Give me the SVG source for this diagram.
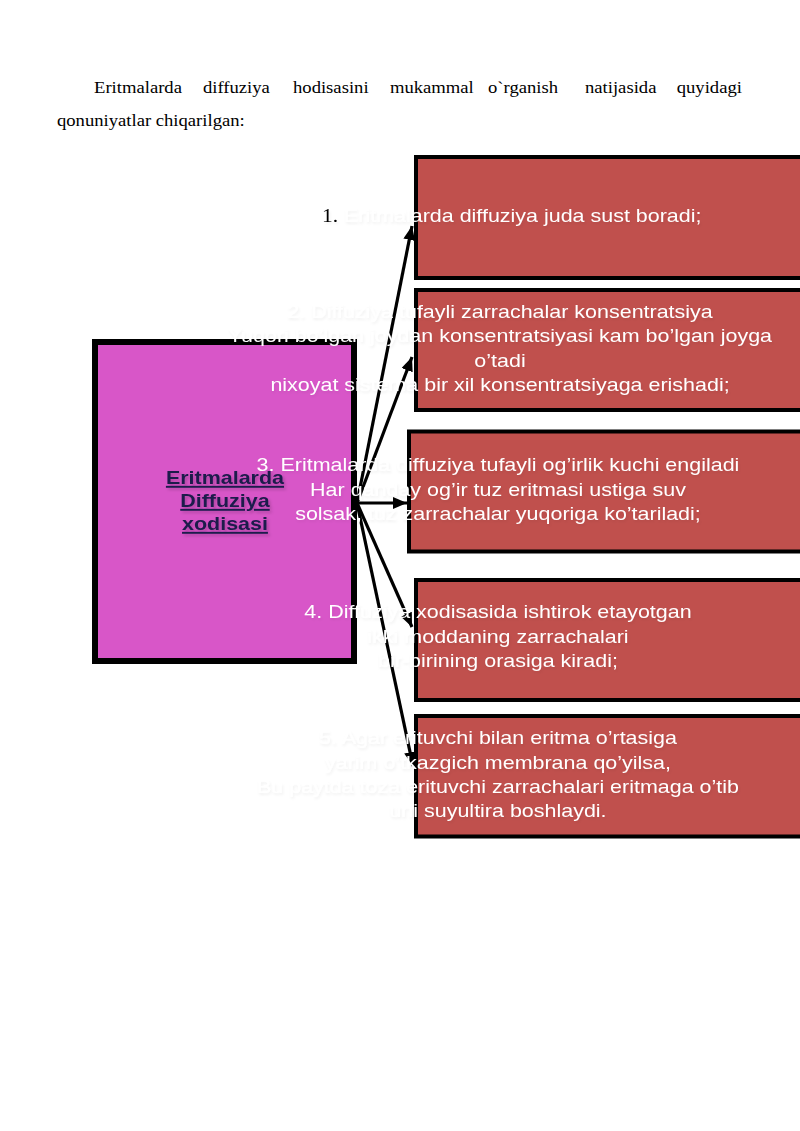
<svg xmlns="http://www.w3.org/2000/svg" width="800" height="1131" viewBox="0 0 800 1131">
<defs>
<style>
.par{font-family:"Liberation Serif","Times New Roman",serif;font-size:16.5px;fill:#000}
.box{fill:#c0504d;stroke:#000;stroke-width:4}
.hub{fill:#d856c8;stroke:#000;stroke-width:6}
.t{font-family:"Liberation Sans",Arial,sans-serif;font-size:19px;fill:#ffffff}
.c{text-anchor:middle}
.num{font-family:"Liberation Serif","Times New Roman",serif;font-size:19px;fill:#000}
.hubt{font-family:"Liberation Sans",Arial,sans-serif;font-size:19px;font-weight:bold;fill:#1d1a4c;text-decoration:underline;text-anchor:middle}
.con{stroke:#000;stroke-width:3.2;fill:none;marker-end:url(#ah)}
</style>
<marker id="ah" markerUnits="userSpaceOnUse" markerWidth="14" markerHeight="12" refX="14" refY="6" orient="auto">
<path d="M0,0 L14,6 L0,12 Z" fill="#000"/>
</marker>
<filter id="gh" x="-5%" y="-30%" width="110%" height="160%">
<feGaussianBlur in="SourceAlpha" stdDeviation="1.3"/>
<feOffset dx="1" dy="1.5" result="b"/>
<feFlood flood-color="#000" flood-opacity="0.06"/>
<feComposite in2="b" operator="in"/>
<feMerge><feMergeNode/><feMergeNode in="SourceGraphic"/></feMerge>
</filter>
<filter id="hs" x="-10%" y="-30%" width="120%" height="160%">
<feGaussianBlur in="SourceAlpha" stdDeviation="1.5"/>
<feOffset dx="1.5" dy="2" result="b"/>
<feFlood flood-color="#000" flood-opacity="0.2"/>
<feComposite in2="b" operator="in"/>
<feMerge><feMergeNode/><feMergeNode in="SourceGraphic"/></feMerge>
</filter>
</defs>
<rect width="800" height="1131" fill="#fff"/>

<g id="intro">
<text class="par" transform="scale(1.13,1)" y="93"><tspan x="83.2">Eritmalarda</tspan><tspan x="179.6">diffuziya</tspan><tspan x="259.3">hodisasini</tspan><tspan x="345.1">mukammal</tspan><tspan x="431.9">o`rganish</tspan><tspan x="517.7">natijasida</tspan><tspan x="598.9">quyidagi</tspan></text>
<text class="par" transform="scale(1.13,1)" x="50.4" y="126">qonuniyatlar chiqarilgan:</text>
</g>

<g id="hub">
<rect class="hub" x="95" y="342" width="259" height="319"/>
<g transform="scale(1.13,1)" filter="url(#hs)">
<text class="hubt" x="199.1" y="484">Eritmalarda</text>
<text class="hubt" x="199.1" y="507">Diffuziya</text>
<text class="hubt" x="199.1" y="530">xodisasi</text>
</g>
</g>

<g id="connectors">
<line class="con" x1="357" y1="503" x2="412" y2="226"/>
<line class="con" x1="357" y1="503" x2="412" y2="357"/>
<line class="con" x1="357" y1="503" x2="407" y2="503"/>
<line class="con" x1="357" y1="503" x2="412" y2="627"/>
<line class="con" x1="357" y1="503" x2="413" y2="766"/>
</g>

<g id="box1">
<rect class="box" x="416" y="157" width="404" height="121"/>
<g transform="scale(1.13,1)" filter="url(#gh)">
<text class="num" x="285" y="222">1.</text>
<text class="t" x="304.4" y="222">Eritmalarda diffuziya juda sust boradi;</text>
</g>
</g>

<g id="box2">
<rect class="box" x="416" y="290" width="404" height="120"/>
<g transform="scale(1.13,1)" filter="url(#gh)">
<text class="t c" x="442.5" y="318">2. Diffuziya tufayli zarrachalar konsentratsiya</text>
<text class="t c" x="442.5" y="342">Yuqori bo’lgan joydan konsentratsiyasi kam bo’lgan joyga</text>
<text class="t c" x="442.5" y="367">o’tadi</text>
<text class="t c" x="442.5" y="391">nixoyat sistema bir xil konsentratsiyaga erishadi;</text>
</g>
</g>

<g id="box3">
<rect class="box" x="409" y="431.5" width="411" height="120"/>
<g transform="scale(1.13,1)" filter="url(#gh)">
<text class="t c" x="440.7" y="471">3. Eritmalarda diffuziya tufayli og’irlik kuchi engiladi</text>
<text class="t c" x="440.7" y="496">Har qanday og’ir tuz eritmasi ustiga suv</text>
<text class="t c" x="440.7" y="520">solsak, tuz zarrachalar yuqoriga ko’tariladi;</text>
</g>
</g>

<g id="box4">
<rect class="box" x="416" y="580" width="404" height="120"/>
<g transform="scale(1.13,1)" filter="url(#gh)">
<text class="t c" x="440.7" y="618">4. Diffuziya xodisasida ishtirok etayotgan</text>
<text class="t c" x="440.7" y="643">ikki moddaning zarrachalari</text>
<text class="t c" x="440.7" y="667">bir-birining orasiga kiradi;</text>
</g>
</g>

<g id="box5">
<rect class="box" x="416" y="716" width="404" height="120.5"/>
<g transform="scale(1.13,1)" filter="url(#gh)">
<text class="t c" x="440.7" y="744">5. Agar erituvchi bilan eritma o’rtasiga</text>
<text class="t c" x="440.7" y="769">yarim o’tkazgich membrana qo’yilsa,</text>
<text class="t c" x="440.7" y="793">Bu paytda toza erituvchi zarrachalari eritmaga o’tib</text>
<text class="t c" x="440.7" y="817">uni suyultira boshlaydi.</text>
</g>
</g>
</svg>
